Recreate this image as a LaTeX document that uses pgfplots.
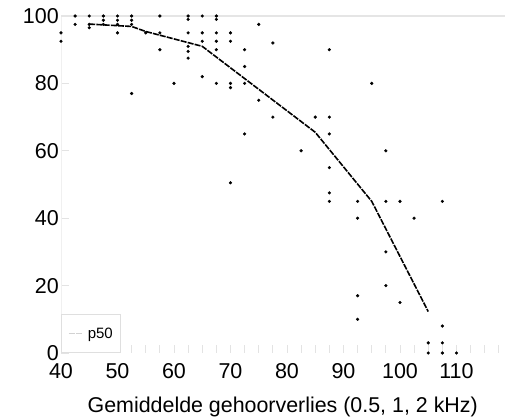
\documentclass[border=0pt]{standalone}
\usepackage{fontspec}
\setmainfont{Liberation Sans}
\usepackage{pgfplots}
\pgfplotsset{compat=1.18}

\begin{document}
\begin{tikzpicture}
\useasboundingbox (0,0) rectangle (505bp,417bp);
\begin{axis}[
  at={(61bp,64bp)}, anchor=south west,
  scale only axis, width=443.5bp, height=337bp,
  xmin=40, xmax=118.5, ymin=0, ymax=100,
  clip=false,
  axis line style={draw=none},
  tick pos=left, tick align=inside,
  xtick={40,50,...,110}, minor x tick num=3,
  extra x ticks={112.5,115,117.5}, extra x tick labels={},
  ytick={0,20,...,100},
  major tick length=7.5bp, minor tick length=7.5bp,
  every tick/.style={gray!22, line width=0.8bp},
  /pgf/number format/assume math mode=true,
  tick label style={font=\fontsize{21.5bp}{24bp}\selectfont},
  xticklabel style={anchor=base, yshift=-25bp},
  yticklabel style={anchor=east, inner sep=0pt, xshift=-2bp},
  xlabel={Gemiddelde gehoorverlies (0.5, 1, 2 kHz)},
  xlabel style={font=\fontsize{21.4bp}{24bp}\selectfont, anchor=base,
    at={(axis description cs:0.5,0)}, yshift=-59.7bp},
  legend style={at={(0,0)}, anchor=south west, draw=gray!25, line width=0.6bp,
    fill=white, font=\fontsize{15bp}{16bp}\selectfont,
    inner xsep=7bp, inner ysep=13bp, nodes={inner sep=0pt}, column sep=4.7bp},
  legend image code/.code={\draw[gray!35, line width=0.8bp] (0bp,0bp) -- (14bp,0bp);},
]
\draw[gray!12, line width=0.8bp] (axis cs:40,0) -- (axis cs:40,100);
\draw[gray!20, line width=2bp] (axis cs:40,100) -- (axis cs:118.5,100);

% observations
\addplot[only marks, mark=*, mark size=1.4bp, black, forget plot] coordinates {
  (40,95) (40,92.5)
  (42.5,100) (42.5,97.5)
  (45,100) (45,97.5) (45,96.5)
  (47.5,100) (47.5,98.75) (47.5,97.5)
  (50,100) (50,98.75) (50,97.5) (50,95)
  (52.5,100) (52.5,98.75) (52.5,97.5) (52.5,77)
  (55,95)
  (57.5,100) (57.5,95) (57.5,90)
  (60,80)
  (62.5,100) (62.5,99) (62.5,95) (62.5,91) (62.5,89.5) (62.5,87.5)
  (65,100) (65,95) (65,92.5) (65,82)
  (67.5,100) (67.5,99) (67.5,95) (67.5,92.5) (67.5,90) (67.5,80)
  (70,95) (70,92.5) (70,80) (70,78.75) (70,50.5)
  (72.5,90) (72.5,85) (72.5,80) (72.5,65)
  (75,97.5) (75,75)
  (77.5,92) (77.5,70)
  (82.5,60)
  (85,70)
  (87.5,90) (87.5,70) (87.5,65) (87.5,55) (87.5,47.5) (87.5,45)
  (92.5,45) (92.5,40) (92.5,17) (92.5,10)
  (95,80)
  (97.5,60) (97.5,45) (97.5,30) (97.5,20)
  (100,45) (100,15)
  (102.5,40)
  (105,3) (105,0)
  (107.5,45) (107.5,8) (107.5,3) (107.5,0)
  (110,0)
};

% median
\addplot[black, line width=1.6bp, dash pattern=on 6bp off 1.2bp] coordinates {
  (45,97.6) (52.5,96.9) (55,95.4) (65,91) (85,65.5) (95,45) (105,12.3)
};
\addlegendentry{p50}
\end{axis}
\end{tikzpicture}
\end{document}
